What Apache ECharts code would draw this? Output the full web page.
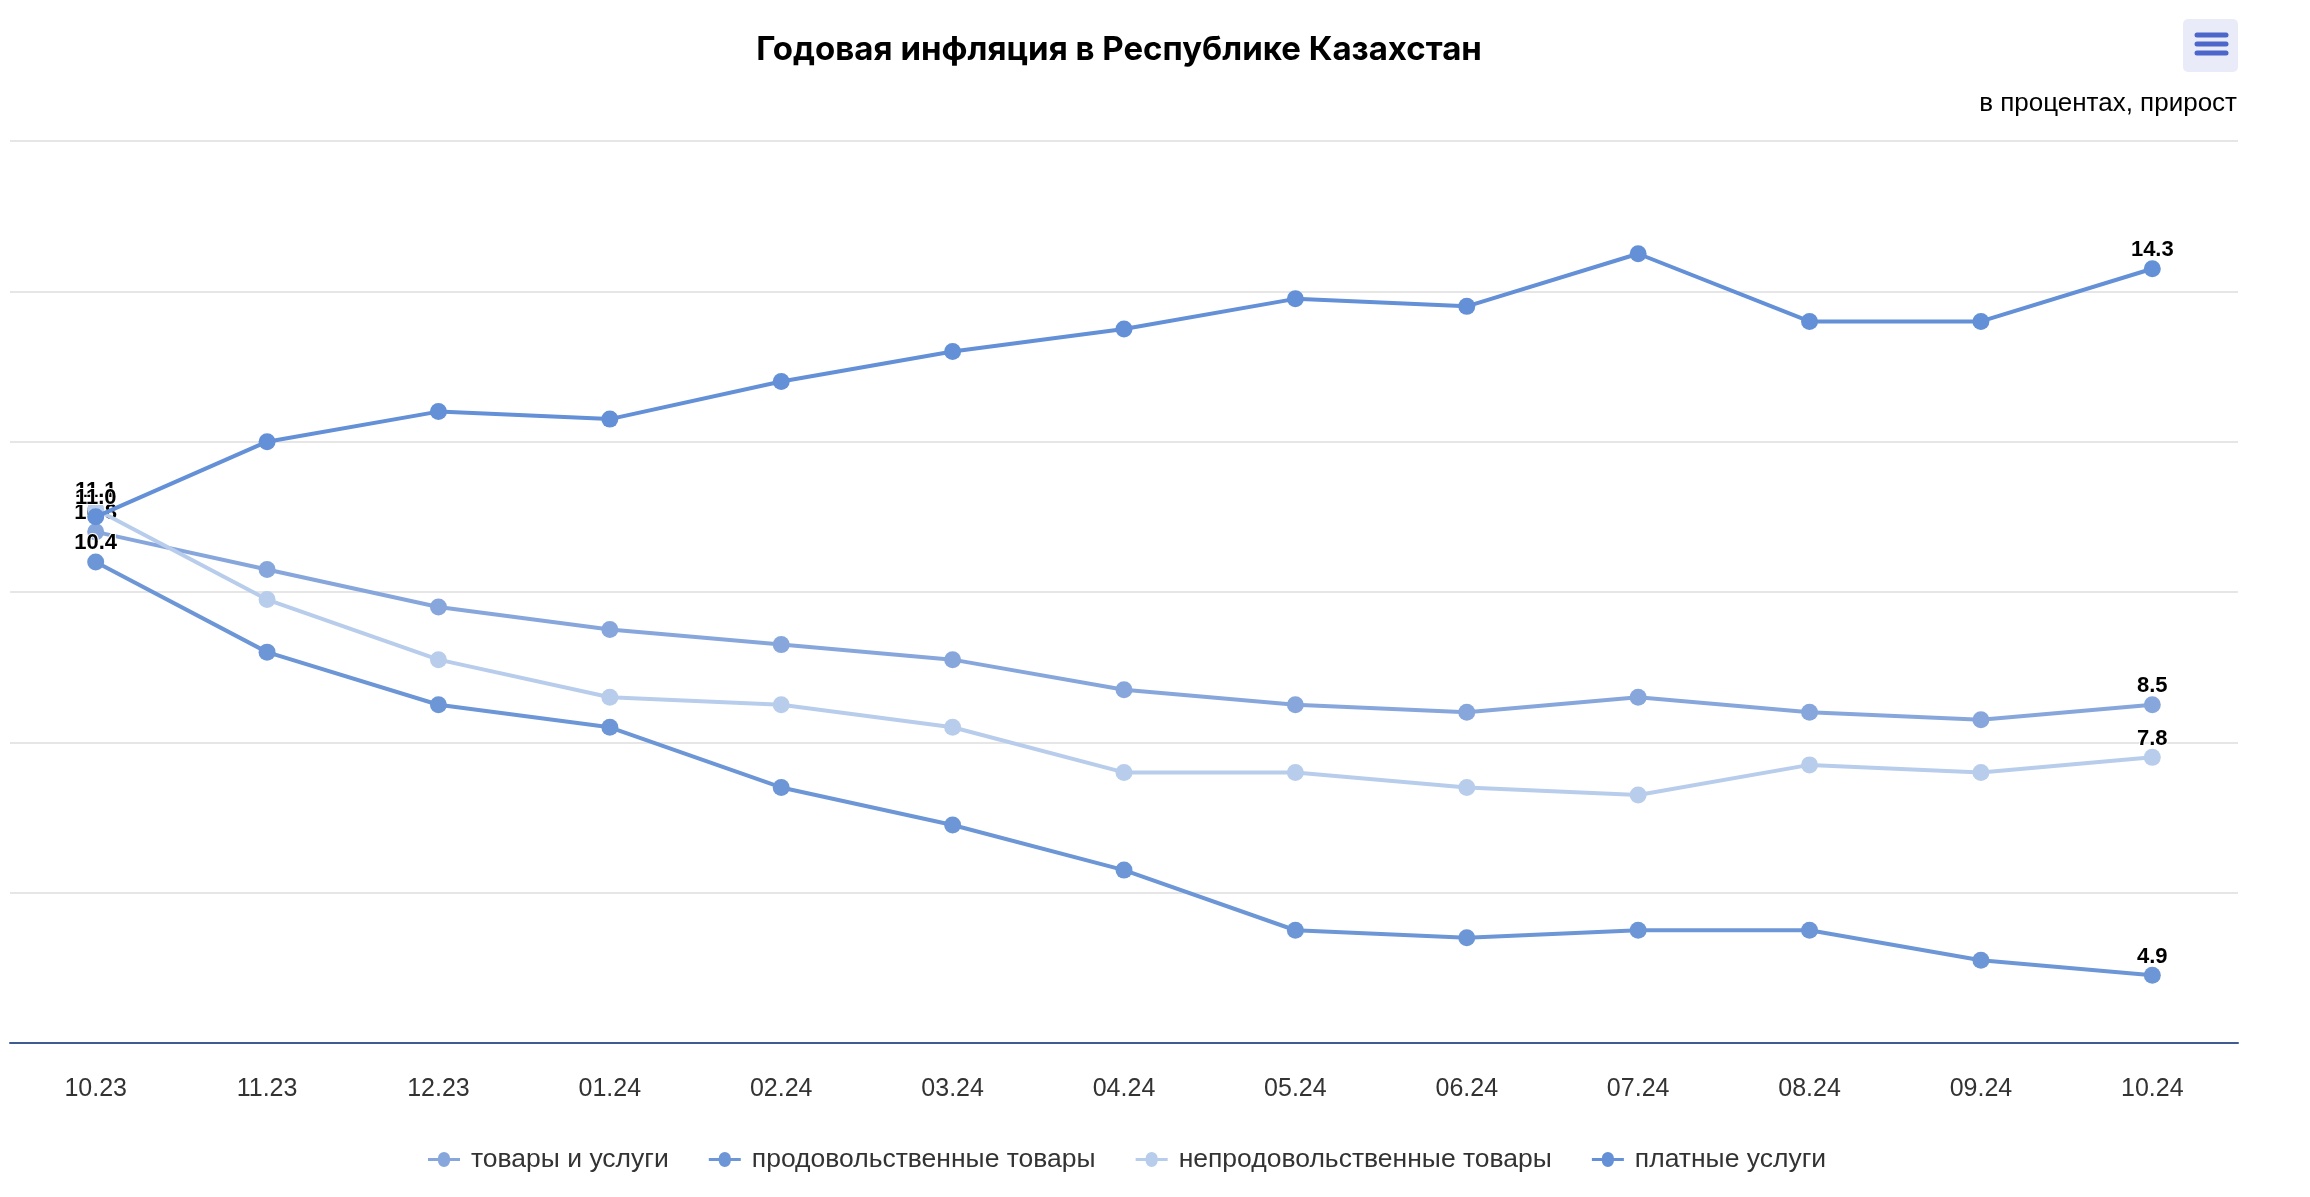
<!DOCTYPE html>
<html>
<head>
<meta charset="utf-8">
<script src="https://cdn.jsdelivr.net/npm/echarts@6/dist/echarts.min.js"></script>
<style>
html,body{margin:0;padding:0;background:#fff;}
#chart{width:2310px;height:1197px;}
</style>
</head>
<body>
<div id="chart"></div>
<script>
const categories = ['10.23','11.23','12.23','01.24','02.24','03.24','04.24','05.24','06.24','07.24','08.24','09.24','10.24'];
const goodsServices = [10.8, 10.3, 9.8, 9.5, 9.3, 9.1, 8.7, 8.5, 8.4, 8.6, 8.4, 8.3, 8.5];
const foodGoods = [10.4, 9.2, 8.5, 8.2, 7.4, 6.9, 6.3, 5.5, 5.4, 5.5, 5.5, 5.1, 4.9];
const nonFoodGoods = [11.1, 9.9, 9.1, 8.6, 8.5, 8.2, 7.6, 7.6, 7.4, 7.3, 7.7, 7.6, 7.8];
const paidServices = [11.0, 12.0, 12.4, 12.3, 12.8, 13.2, 13.5, 13.9, 13.8, 14.5, 13.6, 13.6, 14.3];
const seriesNames = ['товары и услуги', 'продовольственные товары', 'непродовольственные товары', 'платные услуги'];
const seriesColors = ['#87a7dc', '#6c96d6', '#b8cdeb', '#6390d6'];
const seriesData = [goodsServices, foodGoods, nonFoodGoods, paidServices];

const chart = echarts.init(document.getElementById('chart'), null, {renderer: 'canvas'});
const lastIdx = categories.length - 1;

const series = seriesData.map((d, i) => ({
  name: seriesNames[i],
  type: 'line',
  data: d,
  symbol: 'circle',
  symbolSize: 17,
  lineStyle: {width: 4, color: seriesColors[i]},
  itemStyle: {color: seriesColors[i]},
  z: 2 + i,
  label: {
    show: true,
    position: 'top',
    distance: -1,
    fontFamily: 'Liberation Sans, Arial, sans-serif',
    fontSize: 22,
    fontWeight: 'bold',
    color: '#000',
    textBorderColor: '#fff',
    textBorderWidth: 2,
    formatter: p => (p.dataIndex === 0 || p.dataIndex === lastIdx) ? p.value.toFixed(1) : ''
  },
  emphasis: {disabled: true}
}));

chart.setOption({
  animation: false,
  backgroundColor: '#fff',
  title: [
    {
      text: 'Годовая инфляция в Республике Казахстан',
      left: 1114,
      top: 29,
      textAlign: 'center',
      textStyle: {fontFamily: 'Inter, sans-serif', fontSize: 33, fontWeight: 'bold', color: '#000'}
    },
    {
      text: 'в процентах, прирост',
      right: 68,
      top: 86,
      textStyle: {fontFamily: 'Liberation Sans, Arial, sans-serif', fontSize: 26, fontWeight: 'normal', color: '#000'}
    }
  ],
  legend: {
    top: 1141,
    left: 423,
    itemWidth: 32,
    itemHeight: 16,
    itemGap: 40,
    icon: 'path://M0,6.5 L10,6.5 A6,6 0 0 1 22,6.5 L32,6.5 L32,9.5 L22,9.5 A6,6 0 0 1 10,9.5 L0,9.5 Z',
    textStyle: {fontFamily: 'Liberation Sans, Arial, sans-serif', fontSize: 26.5, color: '#333', padding: [0, 0, 0, 6]},
    data: seriesNames
  },
  grid: {left: 10, right: 72, top: 141, bottom: 154, containLabel: false},
  xAxis: {
    type: 'category',
    data: categories,
    boundaryGap: true,
    axisLine: {lineStyle: {color: '#405b91', width: 2}},
    axisTick: {show: false},
    axisLabel: {fontFamily: 'Liberation Sans, Arial, sans-serif', fontSize: 25, color: '#333', margin: 34}
  },
  yAxis: {
    type: 'value',
    min: 4,
    max: 16,
    interval: 2,
    axisLine: {show: false},
    axisTick: {show: false},
    axisLabel: {show: false},
    splitLine: {lineStyle: {color: '#e6e6e6', width: 2}}
  },
  graphic: [
    {type: 'rect', shape: {x: 2183, y: 19, width: 55, height: 53, r: 5}, style: {fill: '#e9ecf8'}},
    {type: 'line', shape: {x1: 2197, y1: 35, x2: 2226, y2: 35}, style: {stroke: '#4c66c9', lineWidth: 5, lineCap: 'round'}},
    {type: 'line', shape: {x1: 2197, y1: 44, x2: 2226, y2: 44}, style: {stroke: '#4c66c9', lineWidth: 5, lineCap: 'round'}},
    {type: 'line', shape: {x1: 2197, y1: 53, x2: 2226, y2: 53}, style: {stroke: '#4c66c9', lineWidth: 5, lineCap: 'round'}}
  ],
  series: series
});
</script>
</body>
</html>
